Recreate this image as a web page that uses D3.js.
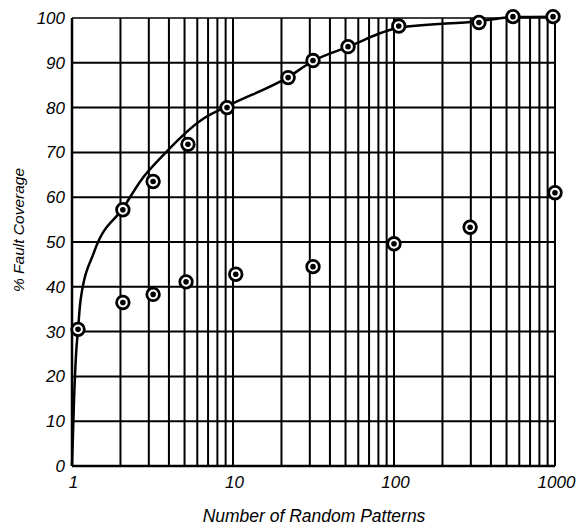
<!DOCTYPE html>
<html>
<head>
<meta charset="utf-8">
<script src="https://cdn.jsdelivr.net/npm/d3@7/dist/d3.min.js"></script>
<style>
  html, body { margin: 0; padding: 0; background: #fff; }
  svg { display: block; }
  text { font-family: "Liberation Sans", Arial, sans-serif; font-style: italic; fill: #000; }
</style>
</head>
<body>
<svg id="chart" width="584" height="529"></svg>
<script>
// ---- data ----
const yTickValues = [0, 10, 20, 30, 40, 50, 60, 70, 80, 90, 100];
const xTickLabels = [1, 10, 100, 1000];

// upper series (with fitted curve)
const upperX = [1.09, 2.07, 3.19, 5.25, 9.18, 22, 31.4, 51.8, 107, 337, 548, 972];
const upperY = [30.5, 57.2, 63.5, 71.8, 80, 86.7, 90.5, 93.6, 98.2, 99.0, 100.3, 100.3];

// lower series
const lowerX = [2.07, 3.19, 5.11, 10.4, 31.4, 100, 297, 1000];
const lowerY = [36.5, 38.3, 41.1, 42.8, 44.5, 49.6, 53.3, 61];

// fitted curve
const curveX = [1, 1.03, 1.06, 1.09, 1.13, 1.38, 2.1, 2.7, 3.6, 6.4, 9.2, 22, 31.4, 52, 107, 337, 548, 1000];
const curveY = [0, 15, 25, 30.5, 37, 48, 57.8, 63.9, 69, 77.3, 80.3, 86.8, 90.4, 93.6, 97.8, 99.3, 100.2, 100.3];

const xTitle = "Number of Random Patterns";
const yTitle = "% Fault Coverage";

// ---- layout ----
const svg = d3.select("#chart");
const mLeft = 72, mRight = 555, mTop = 18, mBottom = 466;

const x = d3.scaleLog().domain([1, 1000]).range([mLeft, mRight]);
const y = d3.scaleLinear().domain([0, 100]).range([mBottom, mTop]);

// vertical grid lines (log minor ticks)
const gridX = x.ticks();
svg.append("g").selectAll("line").data(gridX).join("line")
  .attr("x1", d => x(d)).attr("x2", d => x(d))
  .attr("y1", mTop).attr("y2", mBottom)
  .attr("stroke", "#000").attr("stroke-width", 2);

// horizontal grid lines
svg.append("g").selectAll("line").data(yTickValues).join("line")
  .attr("x1", mLeft).attr("x2", mRight)
  .attr("y1", d => y(d)).attr("y2", d => y(d))
  .attr("stroke", "#000").attr("stroke-width", d => d === 0 ? 2.5 : (d === 100 ? 1.6 : 2));

// left axis border
svg.append("line").attr("x1", mLeft).attr("x2", mLeft).attr("y1", mTop).attr("y2", mBottom)
  .attr("stroke", "#000").attr("stroke-width", 2.5);

// y axis labels
const yAxis = d3.axisLeft(y).tickValues(yTickValues).tickSize(0).tickPadding(7);
const gy = svg.append("g").attr("transform", `translate(${mLeft},0)`).call(yAxis);
gy.select(".domain").remove();
gy.selectAll("text").style("font-size", "17px").style("fill", "#000").attr("font-family", null);

// x axis labels
const xAxis = d3.axisBottom(x).tickValues(xTickLabels).tickFormat(d3.format("d")).tickSize(0).tickPadding(10);
const gx = svg.append("g").attr("transform", `translate(0,${mBottom})`).call(xAxis);
gx.select(".domain").remove();
gx.selectAll("text").style("font-size", "17px").style("fill", "#000").attr("font-family", null)
  .attr("dx", "1");

// titles
svg.append("text").attr("x", 314).attr("y", 522)
  .attr("text-anchor", "middle").style("font-size", "17.5px").text(xTitle);
svg.append("text").attr("transform", "translate(24,230) rotate(-90)")
  .attr("text-anchor", "middle").style("font-size", "15.5px").text(yTitle);

// fitted curve
const curvePts = curveX.map((d, i) => [d, curveY[i]]);
svg.append("path").datum(curvePts)
  .attr("d", d3.line().x(d => x(d[0])).y(d => y(d[1])).curve(d3.curveMonotoneX))
  .attr("fill", "none").attr("stroke", "#000").attr("stroke-width", 2.5);

// markers
function drawPoints(xs, ys) {
  const pts = xs.map((d, i) => [d, ys[i]]);
  const g = svg.append("g").selectAll("g").data(pts).join("g")
    .attr("transform", d => `translate(${x(d[0])},${y(d[1])})`);
  g.append("circle").attr("r", 6.3).attr("fill", "#fff").attr("stroke", "#000").attr("stroke-width", 2.8);
  g.append("circle").attr("r", 2.8).attr("fill", "#000");
}
drawPoints(upperX, upperY);
drawPoints(lowerX, lowerY);
</script>
</body>
</html>
